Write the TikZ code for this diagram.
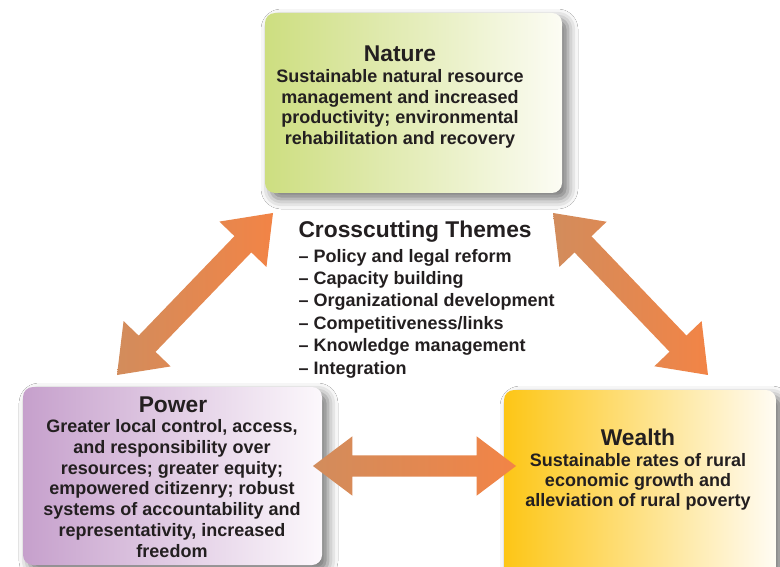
\documentclass[tikz,border=0pt]{standalone}
\usepackage{fontspec}
\setmainfont{Liberation Sans}
\usetikzlibrary{%
  calc,%
  shapes.arrows,%
  shadows.blur
}
\definecolor{ink}{HTML}{231F20}
\definecolor{naturel}{RGB}{205,222,128}
\definecolor{naturer}{RGB}{252,252,244}
\definecolor{powerl}{RGB}{198,160,204}
\definecolor{powerr}{RGB}{252,248,252}
\definecolor{wealthl}{RGB}{253,198,22}
\definecolor{wealthr}{RGB}{255,252,244}
\definecolor{arrowl}{RGB}{210,140,92}
\definecolor{arrowr}{RGB}{242,132,70}

\begin{document}
\begin{tikzpicture}[x=1pt,y=-1pt,
    theme/.style={rounded corners=10pt,inner sep=0pt,
      blur shadow={shadow xshift=6pt,shadow yshift=-6pt,
        shadow blur radius=10pt,shadow opacity=55}},
    linkarrow/.style={double arrow,inner xsep=0pt,inner ysep=11.5pt,
      double arrow head extend=21pt,double arrow tip angle=74,
      left color=arrowl,right color=arrowr},
    headline/.style={anchor=base,text=ink,font=\bfseries\fontsize{22.8}{26}\selectfont},
    % anchor=base of a block of lines sits on its last line
    body/.style={anchor=base,align=center,text=ink,font=\bfseries\fontsize{18}{20.5}\selectfont}]
  \fill[white] (0,0) rectangle (780,567);
  \useasboundingbox (0,0) rectangle (780,567);

  % the three boxes
  \node[theme,minimum width=297pt,minimum height=180pt,left color=naturel,right color=naturer]
    (nature) at (413.5,103) {};
  \node[theme,minimum width=299pt,minimum height=178pt,left color=powerl,right color=powerr]
    (power) at (172.5,476) {};
  \node[theme,minimum width=272pt,minimum height=200pt,left color=wealthl,right color=wealthr]
    (wealth) at (640,490) {};

  % arrow ends
  \coordinate (pn1) at (117,375);
  \coordinate (pn2) at (273,213);
  \coordinate (nw1) at (553,213);
  \coordinate (nw2) at (708,375);
  \coordinate (pw1) at (313,466);
  \coordinate (pw2) at (516,466);

  \path let \p1=($(pn2)-(pn1)$) in (pn1) -- (pn2)
    node[linkarrow,midway,sloped,minimum height={veclen(\x1,\y1)}] (pnarrow) {};
  \path let \p1=($(nw2)-(nw1)$) in (nw1) -- (nw2)
    node[linkarrow,midway,sloped,minimum height={veclen(\x1,\y1)}] (nwarrow) {};
  \path let \p1=($(pw2)-(pw1)$) in (pw1) -- (pw2)
    node[linkarrow,midway,sloped,inner ysep=10.5pt,double arrow head extend=19pt,
      minimum height={veclen(\x1,\y1)}] (pwarrow) {};

  % texts
  \node[headline] (naturetitle) at (400,62) {Nature};
  \node[body] (naturetext) at (400,144.5) {Sustainable natural resource\\
    management and increased\\ productivity; environmental\\
    rehabilitation and recovery};

  \node[headline] (powertitle) at (173,412) {Power};
  \node[body,font=\bfseries\fontsize{18}{20.7}\selectfont] (powertext) at (172,557)
    {Greater local control, access,\\
    and responsibility over\\ resources; greater equity;\\
    empowered citizenry; robust\\ systems of accountability and\\
    representativity, increased\\ freedom};

  \node[headline] (wealthtitle) at (638,445) {Wealth};
  \node[body,font=\bfseries\fontsize{18}{20}\selectfont] (wealthtext) at (638,506)
    {Sustainable rates of rural\\ economic growth and\\ alleviation of rural poverty};

  \node[headline,anchor=base west] (themestitle) at (295,238) {Crosscutting Themes};
  \node[body,anchor=base west,align=left,font=\bfseries\fontsize{18}{22.4}\selectfont]
    (themeslist) at (295,374) {-- Policy and legal reform\\ -- Capacity building\\
    -- Organizational development\\ -- Competitiveness/links\\
    -- Knowledge management\\ -- Integration};
\end{tikzpicture}
\end{document}
